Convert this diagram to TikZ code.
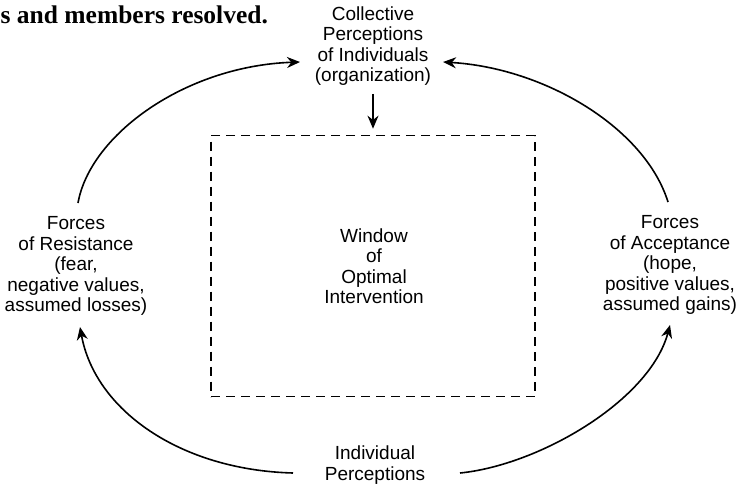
\documentclass[tikz,border=0pt]{standalone}
\usepackage{fontspec}
\setmainfont{Liberation Sans}
\newfontfamily\titlefont{Liberation Serif}
\usetikzlibrary{arrows.meta}
\tikzset{
  lbl/.style={align=center, inner sep=2pt, font=\fontsize{19}{20.5}\selectfont},
  arc/.style={line width=1.6pt, -{Stealth[length=13pt,width=11pt]}},
  winbox/.style={draw, line width=1.6pt, dash pattern=on 9pt off 6pt},
}
\begin{document}
\begin{tikzpicture}[x=1pt,y=-1pt]
\useasboundingbox (0,0) rectangle (737,490);
\node[anchor=base west, inner sep=0pt, font=\titlefont\bfseries\fontsize{25.5}{28}\selectfont] (title) at (0.5,23) {s and members resolved.};
\node[lbl] (top) at (373,46) {Collective\\Perceptions\\of Individuals\\(organization)};
\node[lbl] (left) at (76,266) {Forces\\of Resistance\\(fear,\\negative values,\\assumed losses)};
\node[lbl] (right) at (670,265) {Forces\\of Acceptance\\(hope,\\positive values,\\assumed gains)};
\node[lbl] (bottom) at (375,465) {Individual\\Perceptions};
\node[winbox, minimum width=324pt, minimum height=261pt, inner sep=0pt] (box) at (373,266) {};
\node[lbl] (win) at (374,266) {Window\\of\\Optimal\\Intervention};
% free ends of the arcs
\coordinate (tlS) at (78,203);
\coordinate (tlE) at (300,62);
\coordinate (trS) at (668,202);
\coordinate (trE) at (443,62);
\coordinate (blS) at (293,473);
\coordinate (blE) at (80,327);
\coordinate (brS) at (460,473);
\coordinate (brE) at (670,325);
\draw[arc] (tlS) .. controls (90,135) and (185,66) .. (tlE);
\draw[arc] (trS) .. controls (645,128) and (545,68) .. (trE);
\draw[arc] (blS) .. controls (180,470) and (95,410) .. (blE);
\draw[arc] (brS) .. controls (540,465) and (650,400) .. (brE);
\draw[arc, shorten <=6pt] (top.south) -- ([yshift=6pt]box.north);
\end{tikzpicture}
\end{document}
